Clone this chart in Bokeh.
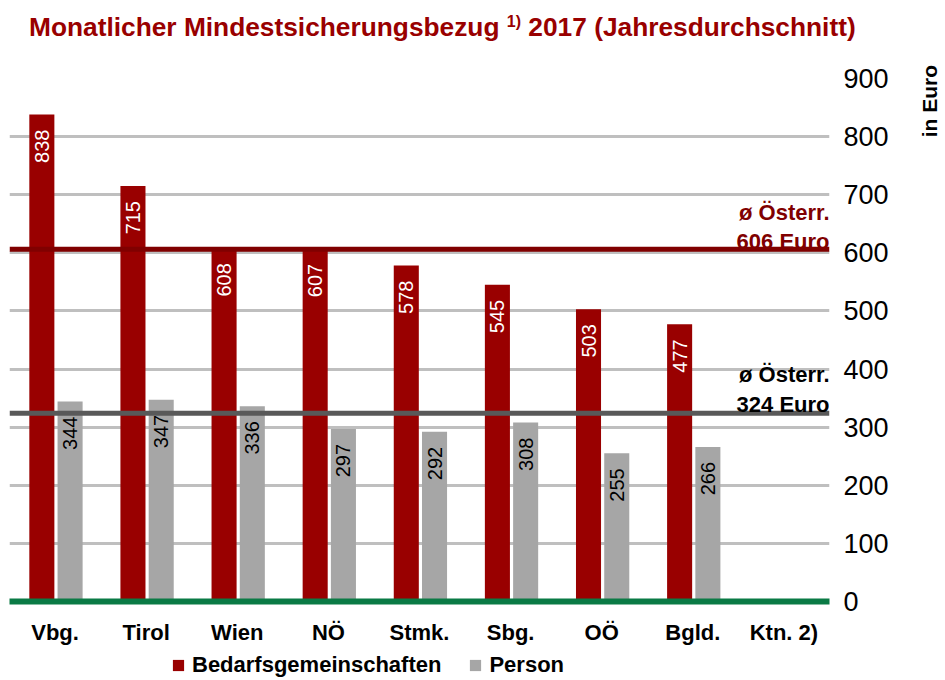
from math import pi
from bokeh.plotting import figure
from bokeh.layouts import column, row
from bokeh.models import (ColumnDataSource, FactorRange, Range1d, FixedTicker, Span, Label,
                          Legend, LegendItem, Div)
from bokeh.transform import dodge
from bokeh.embed import file_html
from bokeh.resources import INLINE

categories = ["Vbg.", "Tirol", "Wien", "NÖ", "Stmk.", "Sbg.", "OÖ", "Bgld.", "Ktn. 2)"]
bar_categories = ["Vbg.", "Tirol", "Wien", "NÖ", "Stmk.", "Sbg.", "OÖ", "Bgld."]
bedarfsgemeinschaften = [838, 715, 608, 607, 578, 545, 503, 477]
person = [344, 347, 336, 297, 292, 308, 255, 266]
avg_bg = 606
avg_person = 324
y_ticks = [0, 100, 200, 300, 400, 500, 600, 700, 800, 900]

FONT = "Liberation Sans"
RED = "#990000"
DARKRED = "#800000"
GRAY = "#a6a6a6"

src = ColumnDataSource(dict(
    cat=bar_categories,
    bg=bedarfsgemeinschaften,
    pe=person,
    bg_txt=[str(v) for v in bedarfsgemeinschaften],
    pe_txt=[str(v) for v in person],
))

# ---- title ----
title_div = Div(
    text=("<div style=\"font: bold 26.3px 'Liberation Sans'; color:#990000; padding:2px 0 0 24px;"
          " white-space:nowrap; line-height:30px\">Monatlicher Mindestsicherungsbezug "
          "<span style=\"font-size:16px; vertical-align:9px\">1)</span> 2017 (Jahresdurchschnitt)</div>"),
    width=945, height=50)

# ---- main chart ----
p = figure(width=912, height=590, x_range=FactorRange(*categories),
           y_range=Range1d(0, 900), y_axis_location="right",
           output_backend="svg", toolbar_location=None,
           min_border_left=9, min_border_right=83, min_border_top=18, min_border_bottom=49)
p.outline_line_color = None
p.xgrid.grid_line_color = None
p.ygrid.grid_line_color = "#bfbfbf"
p.ygrid.grid_line_width = 3

r1 = p.vbar(x=dodge("cat", -0.145, range=p.x_range), top="bg", width=0.275,
            source=src, fill_color=RED, line_color=None)
r2 = p.vbar(x=dodge("cat", 0.165, range=p.x_range), top="pe", width=0.275,
            source=src, fill_color=GRAY, line_color=None)

p.text(x=dodge("cat", -0.145, range=p.x_range), y="bg", text="bg_txt", source=src,
       angle=pi / 2, text_align="right", text_baseline="middle", y_offset=15,
       text_color="white", text_font={"value": FONT}, text_font_size="20px")
p.text(x=dodge("cat", 0.165, range=p.x_range), y="pe", text="pe_txt", source=src,
       angle=pi / 2, text_align="right", text_baseline="middle", y_offset=15,
       text_color="black", text_font={"value": FONT}, text_font_size="20px")

p.add_layout(Span(location=avg_bg, dimension="width", line_color=DARKRED, line_width=5))
p.add_layout(Span(location=avg_person, dimension="width", line_color="#595959", line_width=5))

x_right = len(categories)
for txt, yv, off, col in [("ø Österr.", avg_bg, 37, DARKRED), ("606 Euro", avg_bg, 8, DARKRED),
                          ("ø Österr.", avg_person, 39, "black"), ("324 Euro", avg_person, 9, "black")]:
    p.add_layout(Label(x=x_right, y=yv, x_offset=0, y_offset=off, text=txt,
                       text_align="right", text_baseline="alphabetic",
                       text_font=FONT, text_font_size="22px", text_font_style="bold",
                       text_color=col))

xa = p.xaxis[0]
xa.axis_line_color = "#0a7a45"
xa.axis_line_width = 6
xa.major_tick_line_color = None
xa.minor_tick_line_color = None
xa.major_label_text_font = FONT
xa.major_label_text_font_size = "22px"
xa.major_label_text_font_style = "bold"
xa.major_label_text_color = "black"
xa.major_label_standoff = 12

ya = p.yaxis[0]
ya.ticker = FixedTicker(ticks=y_ticks)
ya.axis_line_color = None
ya.major_tick_line_color = None
ya.minor_tick_line_color = None
ya.major_label_text_font = FONT
ya.major_label_text_font_size = "27px"
ya.major_label_text_color = "black"
ya.major_label_standoff = 8

# ---- unit label on the right ----
unit_div = Div(
    text=("<div style=\"writing-mode:vertical-rl; transform:rotate(180deg); "
          "font: bold 21px 'Liberation Sans'; line-height:21px; color:#000; "
          "margin:0 0 0 2px; white-space:nowrap\">in Euro</div>"),
    width=33, height=150)

# ---- legend (its renderers share the data but lie outside this strip's view) ----
lf = figure(width=945, height=28, x_range=Range1d(0, 1), y_range=Range1d(0, 1),
            x_axis_location=None, y_axis_location=None, output_backend="svg",
            toolbar_location=None, min_border=0)
lf.outline_line_color = None
lf.grid.visible = False
l1 = lf.vbar(x="bg", top="pe", width=1, source=src, fill_color=RED, line_color=None)
l2 = lf.vbar(x="pe", top="bg", width=1, source=src, fill_color=GRAY, line_color=None)
legend = Legend(items=[LegendItem(label="Bedarfsgemeinschaften", renderers=[l1]),
                       LegendItem(label="Person", renderers=[l2])],
                orientation="horizontal", location=(171, 0),
                label_text_font=FONT, label_text_font_size="22px", label_text_font_style="bold",
                label_text_color="black",
                glyph_width=14, glyph_height=14, label_height=22, spacing=27, padding=0, margin=0,
                border_line_color=None, background_fill_alpha=0, label_standoff=7)
lf.add_layout(legend, "center")

layout = column(title_div, row(p, unit_div), lf)

open("out.html", "w").write(file_html(layout, INLINE))
